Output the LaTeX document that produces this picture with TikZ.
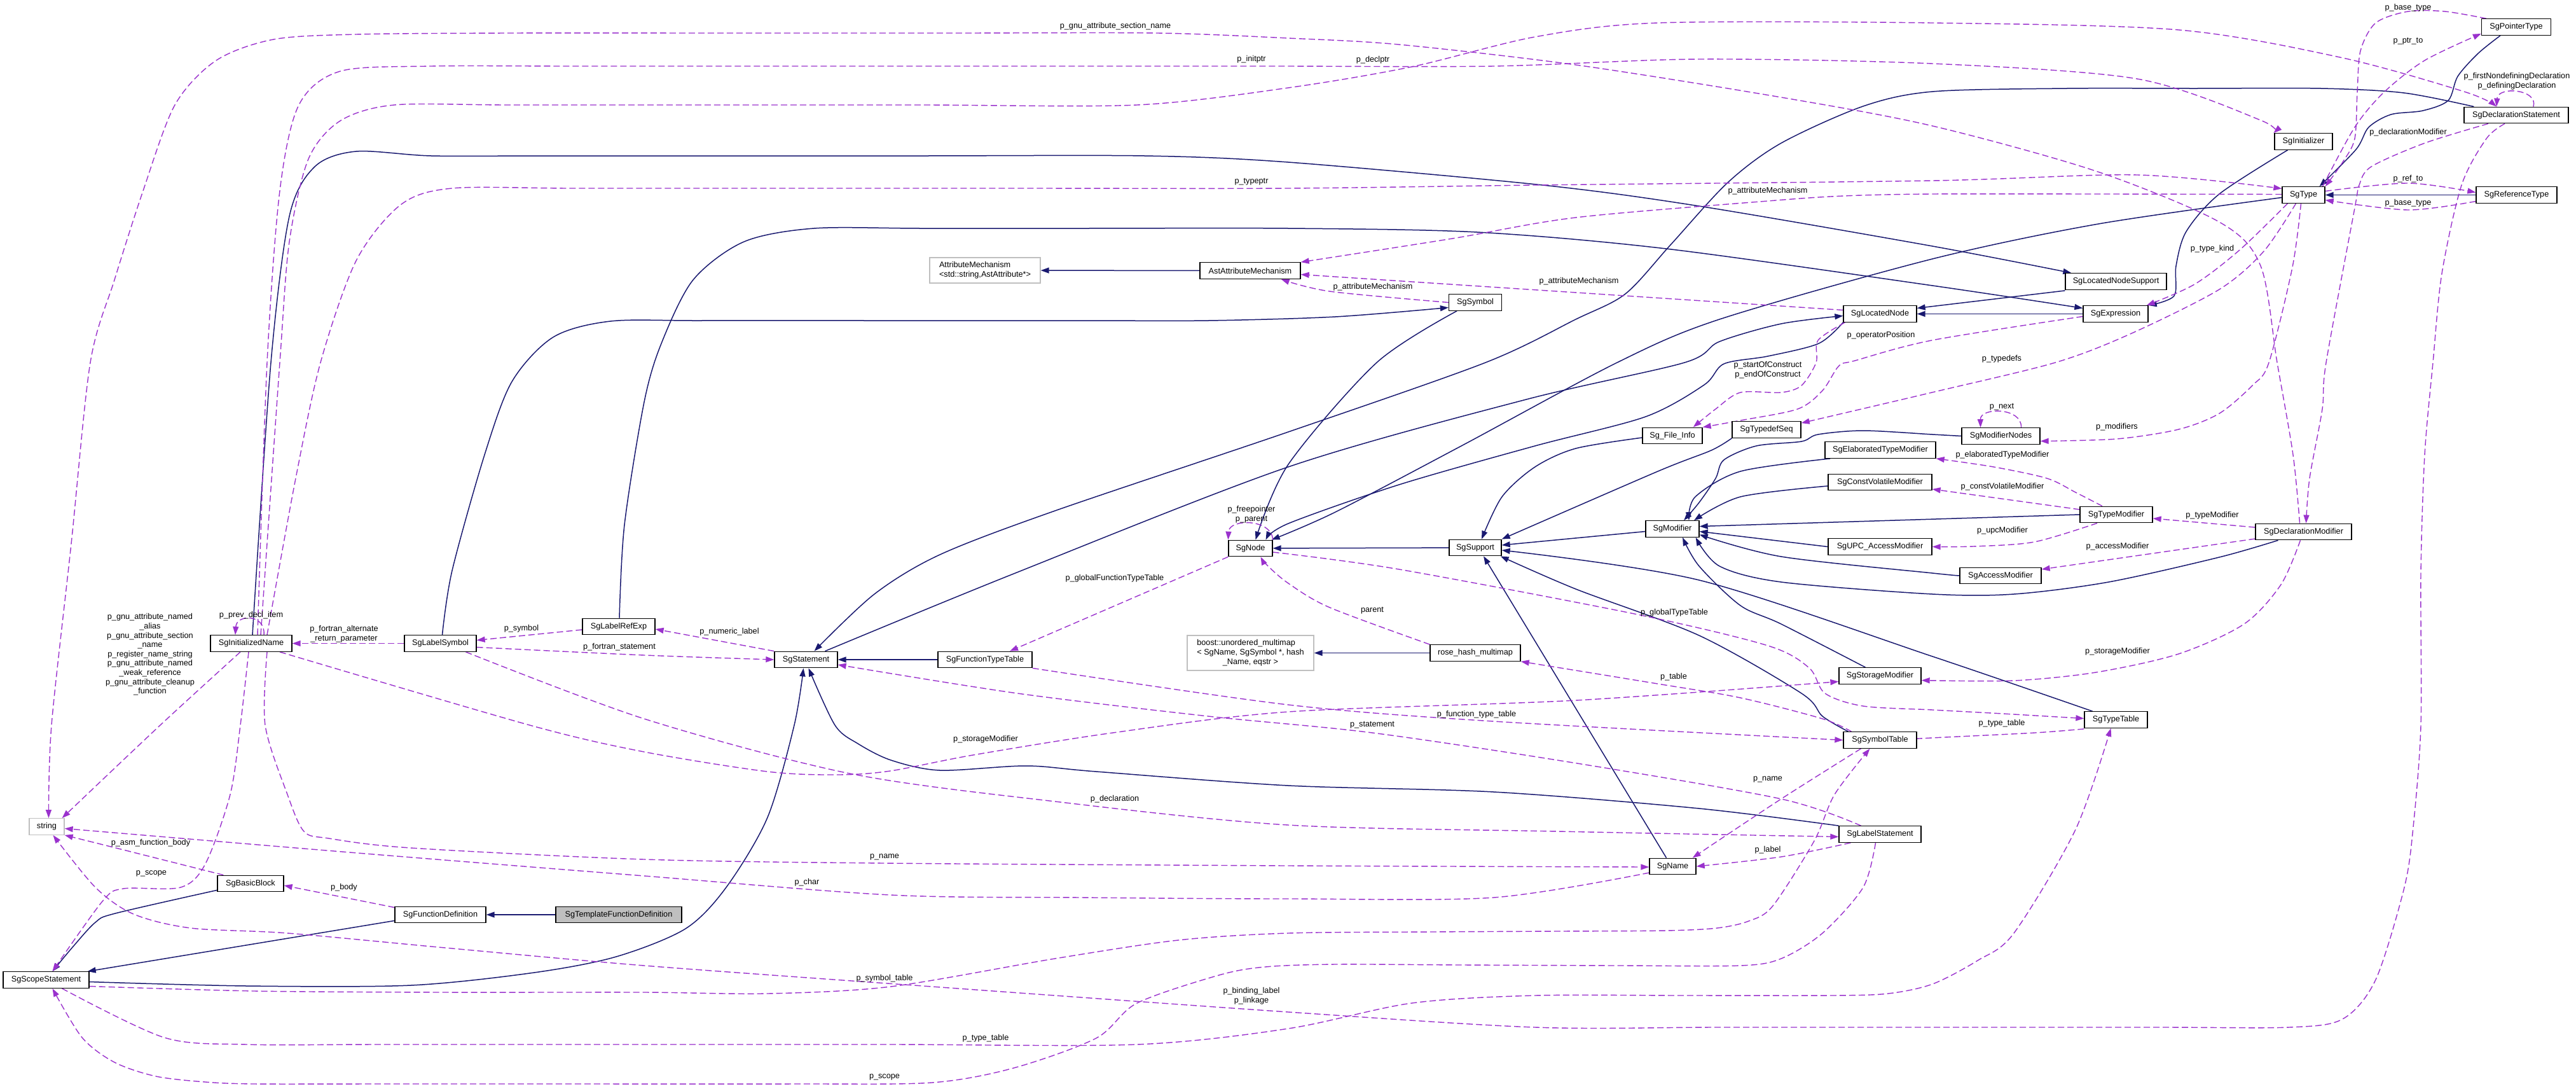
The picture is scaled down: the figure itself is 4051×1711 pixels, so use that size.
\documentclass[tikz,border=0pt]{standalone}
\usepackage{fontspec}
\setmainfont{Liberation Sans}
\usetikzlibrary{arrows.meta}
\definecolor{navy}{HTML}{191970}
\definecolor{orch}{HTML}{9A32CD}
\definecolor{grayb}{HTML}{BFBFBF}
\pgfdeclarelayer{bg}
\pgfsetlayers{bg,main}
\begin{document}
\begin{tikzpicture}[x=1pt,y=-1pt,
  every node/.style={font=\fontsize{12.7}{14.6}\selectfont, inner sep=0pt},
  cls/.style={draw=black, line width=1.3pt, fill=white, minimum height=25.5pt, align=center},
  ext/.style={cls, draw=grayb},
  inh/.style={draw=navy, line width=1.5pt, -{Triangle[length=13pt,width=9pt]}},
  dep/.style={draw=orch, line width=1.4pt, dash pattern=on 10pt off 5pt, -{Triangle[length=13pt,width=9pt]}},
  sm/.style={smooth, tension=0.5},
  lbl/.style={align=center}]
\useasboundingbox (0,0) rectangle (4051,1711);
% ---------------- nodes ----------------
\node[ext, minimum width=174pt, minimum height=40pt] (AttrMech) at (1549,425) {\begin{tabular}{@{}l@{}}AttributeMechanism\\<std::string,AstAttribute*>\end{tabular}};
\node[cls, minimum width=158pt] (AstAttr) at (1966,425.5) {AstAttributeMechanism};
\node[cls, minimum width=83pt] (SgSymbol) at (2320,475.5) {SgSymbol};
\node[cls, minimum width=115pt] (SgLocNode) at (2956.5,493.5) {SgLocatedNode};
\node[cls, minimum width=109pt] (SgPtrType) at (3957,42.5) {SgPointerType};
\node[cls, minimum width=164pt] (SgDeclStmt) at (3957,181) {SgDeclarationStatement};
\node[cls, minimum width=91pt] (SgInitializer) at (3622.5,222.5) {SgInitializer};
\node[cls, minimum width=67pt] (SgType) at (3622.5,306.5) {SgType};
\node[cls, minimum width=127pt] (SgRefType) at (3957.5,306.5) {SgReferenceType};
\node[cls, minimum width=159pt] (SgLNS) at (3327.5,442.5) {SgLocatedNodeSupport};
\node[cls, minimum width=102pt] (SgExpr) at (3327,493.5) {SgExpression};
\node[cls, minimum width=128pt] (SgInitName) at (395,1011.5) {SgInitializedName};
\node[cls, minimum width=113pt] (SgLabelSym) at (692.5,1011.5) {SgLabelSymbol};
\node[cls, minimum width=114pt] (SgLabelRef) at (973,985) {SgLabelRefExp};
\node[cls, minimum width=99pt] (SgStmt) at (1267.5,1037) {SgStatement};
\node[cls, minimum width=148pt] (SgFTT) at (1549,1037) {SgFunctionTypeTable};
\node[cls, minimum width=69pt] (SgNode) at (1966.5,862) {SgNode};
\node[ext, minimum width=199pt, minimum height=55pt] (boost) at (1966.5,1026.5) {\begin{tabular}{@{}l@{}}boost::unordered\_multimap\\< SgName, SgSymbol *, hash\\\multicolumn{1}{@{}c@{}}{\_Name, eqstr >}\end{tabular}};
\node[cls, minimum width=94pt] (FileInfo) at (2630,685) {Sg\_File\_Info};
\node[cls, minimum width=108pt] (SgTypedefSeq) at (2778,675.5) {SgTypedefSeq};
\node[cls, minimum width=174pt] (SgElab) at (2957,707.5) {SgElaboratedTypeModifier};
\node[cls, minimum width=163pt] (SgConstVol) at (2956.5,758) {SgConstVolatileModifier};
\node[cls, minimum width=84pt] (SgModifier) at (2630,831.5) {SgModifier};
\node[cls, minimum width=82pt] (SgSupport) at (2320,861) {SgSupport};
\node[cls, minimum width=163pt] (SgUPC) at (2956.5,859.5) {SgUPC\_AccessModifier};
\node[cls, minimum width=142pt] (rose) at (2320,1026.5) {rose\_hash\_multimap};
\node[cls, minimum width=129pt] (SgStorage) at (2956.5,1062.5) {SgStorageModifier};
\node[cls, minimum width=123pt] (SgModNodes) at (3146.5,685.5) {SgModifierNodes};
\node[cls, minimum width=114pt] (SgTypeMod) at (3328,809) {SgTypeModifier};
\node[cls, minimum width=151pt] (SgDeclMod) at (3622.5,836) {SgDeclarationModifier};
\node[cls, minimum width=128pt] (SgAccessMod) at (3146,905) {SgAccessModifier};
\node[cls, minimum width=99pt] (SgTypeTable) at (3327.5,1131.5) {SgTypeTable};
\node[ext, minimum width=55pt] (str) at (73.5,1299.5) {string};
\node[cls, minimum width=104pt] (SgBasicBlock) at (394,1389) {SgBasicBlock};
\node[cls, minimum width=143pt] (SgFuncDef) at (692.5,1438) {SgFunctionDefinition};
\node[cls, minimum width=198pt, fill=grayb] (SgTmplFD) at (973,1438) {SgTemplateFunctionDefinition};
\node[cls, minimum width=135pt] (SgScope) at (72.5,1540.5) {SgScopeStatement};
\node[cls, minimum width=115pt] (SgSymTab) at (2956.5,1163.5) {SgSymbolTable};
\node[cls, minimum width=129pt] (SgLabelStmt) at (2956.5,1311.5) {SgLabelStatement};
\node[cls, minimum width=73pt] (SgName) at (2630.5,1362) {SgName};
% ---------------- edges ----------------
\begin{pgfonlayer}{bg}
\fill[white] (0,0) rectangle (4051,1711);
% inheritance
\draw[inh] (SgTmplFD) -- (SgFuncDef);
\draw[inh] (SgFTT) -- (SgStmt);
\draw[inh] (SgRefType) -- (SgType);
\draw[inh] (rose) -- (boost);
\draw[inh] (AstAttr) -- (AttrMech);
\draw[inh] (SgSupport) -- (SgNode);
\draw[inh] (SgExpr) -- (SgLocNode);
\draw[inh] ([yshift=4pt]SgFuncDef.south west) -- ([xshift=-3pt]SgScope.north east);
\draw[inh] plot[sm] coordinates {([yshift=3pt]SgBasicBlock.south west) (181,1436) (150,1450) (115,1488) ([xshift=10pt]SgScope.north)};
\draw[inh] plot[sm] coordinates {([yshift=-3pt]SgScope.east) (388,1550) (646,1549) (840,1529) (969,1504) (1078,1460) (1142,1395) (1207,1285) (1249,1140) ([xshift=-4pt]SgStmt.south)};
\draw[inh] plot[sm] coordinates {(SgLabelStmt.north west) (2672,1271) (2349,1245) (2026,1235) (1724,1213) (1614,1204) (1478,1211) (1401,1195) (1349,1169) (1313,1140) ([xshift=4pt]SgStmt.south)};
\draw[inh] plot[sm] coordinates {([xshift=16pt]SgDeclStmt.north west) (3780,146) (3650,139) (3450,139) (3250,139) (3039,144) (2930,167) (2801,225) (2717,287) (2627,385) (2556,462) (2478,502) (2336,570) (2026,679) (1659,803) (1478,872) (1375,934) ([xshift=13pt]SgStmt.north)};
\draw[inh] plot[sm] coordinates {([xshift=30pt]SgStmt.north) (1594,902) (2026,734) (2400,628) (2649,570) (2704,537) (2801,509) ([yshift=-3pt]SgLocNode.west)};
\draw[inh] plot[sm] coordinates {(SgLocNode.south west) (2860,540) (2780,560) (2711,572) (2680,605) (2588,655) (2414,701) (2200,762) (2026,823) ([xshift=24pt]SgNode.north)};
\draw[inh] plot[sm] coordinates {([yshift=-4pt]SgType.west) (3300,352) (3039,407) (2704,502) (2543,570) (2300,700) (2100,805) ([xshift=-2pt]SgNode.north east)};
\draw[inh] plot[sm] coordinates {([xshift=-29pt]SgSymbol.south) (2165,570) (2026,730) ([xshift=8pt]SgNode.north)};
\draw[inh] ([yshift=-1pt]SgLNS.south west) -- ([yshift=9pt]SgLocNode.east);
\draw[inh] plot[sm] coordinates {([xshift=-25pt]SgInitializer.south) (3490,305) (3438,364) (3422,418) (3419,465) (SgExpr.north east)};
\draw[inh] plot[sm] coordinates {([xshift=2pt]SgInitName.north) (426,570) (455,340) (495,262) (560,238) (678,245) (850,245) (1100,245) (1450,245) (1800,245) (2026,255) (2426,291) (2672,324) (3039,387) ([xshift=10pt]SgLNS.north west)};
\draw[inh] plot[sm] coordinates {([xshift=3pt]SgLabelSym.north) (711,897) (762,715) (805,600) (870,530) (960,505) (1100,504) (1400,504) (1700,504) (1900,504) (2100,498) ([yshift=-8pt]SgSymbol.west)};
\draw[inh] plot[sm] coordinates {([xshift=1pt]SgLabelRef.north) (982,825) (1013,632) (1040,540) (1090,440) (1170,380) (1280,359) (1450,359) (1700,359) (2026,359) (2323,365) (2620,391) (3039,449) ([yshift=9pt]SgExpr.west)};
\draw[inh] plot[sm] coordinates {([xshift=-25pt]SgPtrType.south) (3897,84) (3865,120) (3850,158) (3810,174) (3760,180) (3725,200) (3705,235) ([xshift=25pt]SgType.north)};
\draw[inh] plot[sm] coordinates {(SgTypedefSeq.south west) (2691,708) (2607,741) (SgSupport.north east)};
\draw[inh] plot[sm] coordinates {([yshift=-3pt]FileInfo.west) (2478,705) (2414,734) (2362,781) ([xshift=10pt]SgSupport.north)};
\draw[inh] ([yshift=-4pt]SgModifier.west) -- ([yshift=4pt]SgSupport.east);
\draw[inh] plot[sm] coordinates {([xshift=-37pt]SgTypeTable.north) (3039,1032) (2672,912) ([yshift=-4pt]SgSupport.east)};
\draw[inh] plot[sm] coordinates {([xshift=-50pt]SgSymTab.north) (2866,1126) (2833,1090) (2672,999) (2478,926) ([xshift=-2pt]SgSupport.south east)};
\draw[inh] ([xshift=-10pt]SgName.north) -- ([xshift=13pt]SgSupport.south);
\draw[inh] plot[sm] coordinates {(SgModNodes.west) (3039,683) (2930,677) (2859,683) (2833,694) (2762,701) (2711,723) (2698,752) (2672,790) ([xshift=18pt]SgModifier.north)};
\draw[inh] plot[sm] coordinates {([xshift=9pt]SgElab.south west) (2737,741) (2666,781) ([xshift=26pt]SgModifier.north)};
\draw[inh] plot[sm] coordinates {([yshift=-6pt]SgConstVol.west) (2737,781) ([xshift=34pt]SgModifier.north)};
\draw[inh] (SgTypeMod.west) -- ([yshift=4pt]SgModifier.east);
\draw[inh] (SgUPC.west) -- ([yshift=-4pt]SgModifier.east);
\draw[inh] plot[sm] coordinates {(SgAccessMod.west) (3039,901) (2801,875) ([yshift=-9pt]SgModifier.east)};
\draw[inh] plot[sm] coordinates {([xshift=-40pt]SgDeclMod.south) (3490,876) (3316,915) (3167,934) (3039,934) (2801,915) (2704,890) ([xshift=-6pt]SgModifier.south east)};
\draw[inh] plot[sm] coordinates {([xshift=-23pt]SgStorage.north) (2801,981) (2737,952) (2672,890) ([xshift=16pt]SgModifier.south)};
% usage
\draw[dep] ([xshift=20pt]SgInitName.north) .. controls (418,965) and (372,965) .. ([xshift=-25pt]SgInitName.north);
\draw[dep] (SgLabelSym) -- (SgInitName);
\draw[dep] ([yshift=-5pt]SgLabelRef.west) -- ([yshift=5pt]SgLabelSym.east);
\draw[dep] plot[sm] coordinates {([yshift=-6pt]SgLabelSym.east) (1013,1030) (SgStmt.west)};
\draw[dep] (SgStmt.north west) -- ([yshift=-4pt]SgLabelRef.east);
\draw[dep] plot[sm] coordinates {([xshift=-30pt]SgLabelStmt.north) (2801,1256) (2480,1200) (2158,1152) (1900,1126) (1600,1090) ([yshift=-8pt]SgStmt.east)};
\draw[dep] (SgNode.south west) -- ([xshift=39pt]SgFTT.north);
\draw[dep] (SgNode.north east) .. controls (2000,815) and (1933,815) .. (SgNode.north west);
\draw[dep] plot[sm] coordinates {(rose.north west) (2091,955) (2026,917) (1992,888) ([xshift=16pt]SgNode.south)};
\draw[dep] plot[sm] coordinates {([xshift=45pt]SgInitName.south) (833,1140) (1013,1182) (1207,1213) (1317,1218) (1400,1212) (1530,1187) (1750,1152) (2026,1119) (2478,1101) ([yshift=-9pt]SgStorage.west)};
\draw[dep] plot[sm] coordinates {([xshift=40pt]SgLabelSym.south) (1013,1130) (1336,1216) (1659,1260) (2026,1297) (2450,1307) ([yshift=-4pt]SgLabelStmt.west)};
\draw[dep] ([yshift=-2pt]SgFuncDef.north west) -- ([yshift=-3pt]SgBasicBlock.east);
\draw[dep] plot[sm] coordinates {([xshift=10pt]SgBasicBlock.north west) (194,1336) (str.south east)};
\draw[dep] plot[sm] coordinates {([yshift=-10pt]SgName.west) (2349,1411) (2026,1413) (1700,1411) (1401,1407) (1013,1377) (550,1340) ([yshift=-3pt]str.east)};
\draw[dep] plot[sm] coordinates {([xshift=25pt]SgInitName.south) (417,1140) (452,1249) (478,1307) (517,1318) (646,1333) (1013,1351) (1391,1357) (2026,1361) ([yshift=-1pt]SgName.west)};
\draw[dep] plot[sm] coordinates {([xshift=-17pt]SgInitName.south) (252,1140) ([xshift=-4pt]str.north east)};
\draw[dep] plot[sm] coordinates {([xshift=-4pt]SgInitName.south) (378,1140) (362,1249) (323,1358) (284,1395) (194,1397) (161,1417) ([xshift=10pt]SgScope.north)};
\draw[dep] plot[sm] coordinates {([xshift=-18pt]SgDeclStmt.south) (3910,218) (3871,291) (3840,430) (3826,570) (3813,715) (3807,900) (3807,1140) (3795,1300) (3781,1395) (3736,1540) (3684,1602) (3600,1615) (3400,1615) (3038,1615) (2700,1615) (2414,1615) (2026,1591) (1465,1551) (1013,1518) (700,1490) (452,1467) (300,1459) (210,1437) (150,1395) ([xshift=10pt]str.south)};
\draw[dep] plot[sm] coordinates {([xshift=-7pt]SgLabelStmt.south) (2930,1395) (2866,1467) (2801,1507) (2737,1518) (2550,1518) (2300,1517) (2100,1516) (1990,1520) (1917,1533) (1788,1577) (1724,1632) (1594,1679) (1465,1702) (1250,1704) (900,1704) (600,1704) (400,1704) (323,1701) (245,1692) (180,1670) (129,1631) ([xshift=10pt]SgScope.south)};
\draw[dep] plot[sm] coordinates {([yshift=-10pt]SgScope.east) (400,1558) (700,1560) (1013,1560) (1207,1562) (1401,1551) (1659,1507) (1853,1478) (2026,1467) (2250,1465) (2450,1464) (2620,1463) (2700,1459) (2750,1448) (2788,1424) (2853,1322) (2885,1249) ([xshift=-16pt]SgSymTab.south)};
\draw[dep] plot[sm] coordinates {([xshift=25pt]SgScope.south) (258,1631) (388,1642) (600,1642) (1000,1642) (1400,1642) (1788,1642) (2026,1617) (2220,1577) (2414,1565) (2650,1565) (2880,1565) (2969,1562) (3039,1547) (3110,1510) (3167,1467) (3264,1304) ([xshift=-8pt]SgTypeTable.south)};
\draw[dep] plot[sm] coordinates {([xshift=19pt]SgLabelStmt.south west) (2801,1347) (SgName.east)};
\draw[dep] plot[sm] coordinates {([xshift=-30pt]SgSymTab.south) (2801,1256) ([xshift=-6pt]SgName.north east)};
\draw[dep] plot[sm] coordinates {([xshift=-45pt]SgSymTab.north) (2866,1130) (2737,1097) (2607,1075) (rose.south east)};
\draw[dep] plot[sm] coordinates {([yshift=-1pt]SgTypeTable.south west) (3200,1152) (3038,1160) ([yshift=2pt]SgSymTab.east)};
\draw[dep] plot[sm] coordinates {(SgFTT.south east) (2026,1108) (2349,1134) (SgSymTab.west)};
\draw[dep] plot[sm] coordinates {([yshift=-6pt]SgNode.east) (2200,895) (2575,966) (2780,1015) (2845,1050) (2870,1090) (2930,1110) (3039,1116) (3150,1122) ([yshift=2pt]SgTypeTable.west)};
\draw[dep] plot[sm] coordinates {([xshift=-5pt]SgDeclMod.south) (3587,919) (3529,981) (3426,1028) (3296,1057) (3167,1070) ([yshift=-7pt]SgStorage.east)};
\draw[dep] ([yshift=7pt]SgDeclMod.west) -- ([yshift=-6pt]SgTypeMod.east);
\draw[dep] ([yshift=-11pt]SgDeclMod.west) -- ([yshift=10pt]SgAccessMod.east);
\draw[dep] plot[sm] coordinates {([xshift=-22pt]SgTypeMod.north) (3264,774) (3219,752) (3135,734) (SgElab.south east)};
\draw[dep] ([yshift=8pt]SgTypeMod.west) -- ([yshift=-11pt]SgConstVol.east);
\draw[dep] plot[sm] coordinates {([xshift=-30pt]SgTypeMod.south) (3199,852) (3103,859) (SgUPC.east)};
\draw[dep] ([xshift=32pt]SgModNodes.north) .. controls (3180,640) and (3114,640) .. ([xshift=-32pt]SgModNodes.north);
\draw[dep] plot[sm] coordinates {([xshift=-4pt]SgType.south) (3605,420) (3568,570) (3542,606) (3490,650) (3426,675) (3329,690) ([yshift=-8pt]SgModNodes.east)};
\draw[dep] plot[sm] coordinates {([xshift=-12pt]SgType.south) (3560,395) (3490,455) (3350,525) (3232,570) (3038,617) ([yshift=-3pt]SgTypedefSeq.north east)};
\draw[dep] plot[sm] coordinates {([xshift=-25pt]SgType.south) (3522,393) (3451,447) ([xshift=-3pt]SgExpr.north east)};
\draw[dep] plot[sm] coordinates {([xshift=30pt]SgType.north) (3703,200) (3749,145) (3813,95) ([yshift=3pt]SgPtrType.south west)};
\draw[dep] plot[sm] coordinates {([xshift=8pt]SgPtrType.north west) (3845,18) (3787,18) (3736,36) (3712,80) (3707,145) (3703,218) (3684,255) (SgType.north east)};
\draw[dep] plot[sm] coordinates {([yshift=6pt]SgType.east) (3787,288) ([yshift=4pt]SgRefType.west)};
\draw[dep] plot[sm] coordinates {([yshift=-10pt]SgRefType.west) (3787,330) ([yshift=-8pt]SgType.east)};
\draw[dep] plot[sm] coordinates {([xshift=25pt]SgInitName.north) (465,752) (504,570) (560,410) (630,322) (711,296) (900,296) (1200,296) (1600,296) (2026,296) (2414,291) (3039,284) (3361,275) ([yshift=10pt]SgType.west)};
\draw[dep] plot[sm] coordinates {([xshift=10pt]SgInitName.north) (420,570) (440,300) (470,165) (535,112) (678,104) (900,104) (1200,104) (1600,104) (2000,104) (2349,104) (2672,93) (3039,100) (3361,124) (3555,189) ([xshift=-1pt]SgInitializer.north west)};
\draw[dep] plot[sm] coordinates {([xshift=15pt]SgInitName.north) (440,570) (455,380) (485,250) (535,190) (620,165) (800,165) (1100,165) (1450,165) (1788,165) (2026,138) (2220,105) (2414,58) (2607,36) (3038,36) (3426,47) (3684,91) (3878,145) ([xshift=-31pt]SgDeclStmt.north)};
\draw[dep] plot[sm] coordinates {([xshift=-6pt]SgDeclMod.north) (3606,715) (3581,570) (3555,418) (3490,349) (3296,269) (3039,198) (2801,153) (2478,102) (2200,70) (2026,60) (1820,52) (1500,52) (1150,52) (800,52) (560,54) (430,62) (340,95) (275,165) (225,300) (180,440) (142,570) (112,855) (81,1140) ([xshift=3pt]str.north)};
\draw[dep] plot[sm] coordinates {([xshift=-44pt]SgDeclStmt.south) (3813,225) (3729,262) (3710,291) (3703,327) (3658,570) (3652,643) (3632,752) ([xshift=4pt]SgDeclMod.north)};
\draw[dep] ([xshift=27pt]SgDeclStmt.north) .. controls (3992,140) and (3928,135) .. ([xshift=-31pt]SgDeclStmt.north);
\draw[dep] plot[sm] coordinates {([xshift=3pt]SgLocNode.south west) (2859,535) (2856,570) (2833,606) (2801,617) (2737,617) (2698,643) ([xshift=-15pt]FileInfo.north east)};
\draw[dep] plot[sm] coordinates {([yshift=-4pt]SgExpr.west) (3038,535) (2917,567) (2892,575) (2866,614) (2827,643) (2737,661) (FileInfo.north east)};
\draw[dep] plot[sm] coordinates {([yshift=1pt]SgType.west) (3300,305) (3038,305) (2900,308) (2780,316) (2478,342) (2284,375) (AstAttr.north east)};
\draw[dep] plot[sm] coordinates {(SgSymbol.west) (2091,458) ([xshift=-31pt]AstAttr.south east)};
\draw[dep] ([yshift=6pt]SgLocNode.west) -- ([yshift=-6pt]AstAttr.east);
\end{pgfonlayer}
% ---------------- labels ----------------
\node[lbl] (l1) at (1754,41) {p\_gnu\_attribute\_section\_name};
\node[lbl] (l2) at (1968,93) {p\_initptr};
\node[lbl] (l3) at (2159,94) {p\_declptr};
\node[lbl] (l4) at (1968,286) {p\_typeptr};
\node[lbl] (l5) at (2780,300) {p\_attributeMechanism};
\node[lbl] (l6) at (2159,451) {p\_attributeMechanism};
\node[lbl] (l7) at (2483,442) {p\_attributeMechanism};
\node[lbl] (l8) at (2958,527) {p\_operatorPosition};
\node[lbl] (l9) at (2780,581.5) {p\_startOfConstruct\\p\_endOfConstruct};
\node[lbl] (l10) at (3148,564) {p\_typedefs};
\node[lbl] (l11) at (3329,671) {p\_modifiers};
\node[lbl] (l12) at (3148,640) {p\_next};
\node[lbl] (l13) at (3149,715) {p\_elaboratedTypeModifier};
\node[lbl] (l14) at (3149,765) {p\_constVolatileModifier};
\node[lbl] (l15) at (3149,834) {p\_upcModifier};
\node[lbl] (l16) at (3479,810) {p\_typeModifier};
\node[lbl] (l17) at (3330,859) {p\_accessModifier};
\node[lbl] (l18) at (3330,1024) {p\_storageModifier};
\node[lbl] (l19) at (3148,1137) {p\_type\_table};
\node[lbl] (l20) at (3787,12) {p\_base\_type};
\node[lbl] (l21) at (3787,65) {p\_ptr\_to};
\node[lbl] (l22) at (3958,128) {p\_firstNondefiningDeclaration\\p\_definingDeclaration};
\node[lbl] (l23) at (3787,208) {p\_declarationModifier};
\node[lbl] (l24) at (3787,281) {p\_ref\_to};
\node[lbl] (l25) at (3787,319) {p\_base\_type};
\node[lbl] (l26) at (3479,391) {p\_type\_kind};
\node[lbl] (l27) at (395,967) {p\_prev\_decl\_item};
\node[lbl] (l28) at (236,1029) {p\_gnu\_attribute\_named\\\_alias\\p\_gnu\_attribute\_section\\\_name\\p\_register\_name\_string\\p\_gnu\_attribute\_named\\\_weak\_reference\\p\_gnu\_attribute\_cleanup\\\_function};
\node[lbl] (l29) at (541,996.5) {p\_fortran\_alternate\\\_return\_parameter};
\node[lbl] (l30) at (820,988) {p\_symbol};
\node[lbl] (l31) at (974,1017) {p\_fortran\_statement};
\node[lbl] (l32) at (1147,993) {p\_numeric\_label};
\node[lbl] (l33) at (1968,808.5) {p\_freepointer\\p\_parent};
\node[lbl] (l34) at (1753,909) {p\_globalFunctionTypeTable};
\node[lbl] (l35) at (2158,960) {parent};
\node[lbl] (l36) at (2633,963) {p\_globalTypeTable};
\node[lbl] (l37) at (2632,1064) {p\_table};
\node[lbl] (l38) at (2322,1123) {p\_function\_type\_table};
\node[lbl] (l39) at (2158,1140) {p\_statement};
\node[lbl] (l40) at (2780,1225) {p\_name};
\node[lbl] (l41) at (2780,1336) {p\_label};
\node[lbl] (l42) at (1550,1162) {p\_storageModifier};
\node[lbl] (l43) at (1753,1256) {p\_declaration};
\node[lbl] (l44) at (1391,1347) {p\_name};
\node[lbl] (l45) at (1269,1387) {p\_char};
\node[lbl] (l46) at (1391,1538) {p\_symbol\_table};
\node[lbl] (l47) at (1968,1565.5) {p\_binding\_label\\p\_linkage};
\node[lbl] (l48) at (1550,1632) {p\_type\_table};
\node[lbl] (l49) at (1391,1693) {p\_scope};
\node[lbl] (l50) at (237,1325) {p\_asm\_function\_body};
\node[lbl] (l51) at (238,1373) {p\_scope};
\node[lbl] (l52) at (541,1395) {p\_body};
\end{tikzpicture}
\end{document}
